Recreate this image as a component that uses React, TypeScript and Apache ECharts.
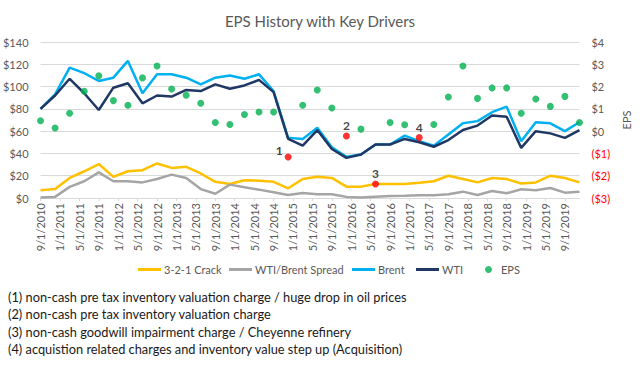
import React, { useEffect, useRef } from 'react';
import * as echarts from 'echarts';

// Quarterly observations, first one on 9/1/2010
const START_YEAR = 2010;
const START_MONTH = 9;
const STEP_MONTHS = 3;
const LABEL_EVERY_MONTHS = 4;

const crack = [7, 8, 18, 24, 30.5, 19, 24, 25, 31, 27, 28, 22, 14.5, 12.5, 16, 15.5, 14.5, 8.7, 17, 19, 18, 10.2, 10.2, 12.6, 12.6, 12.6, 13.7, 15, 20, 17, 14, 18, 17, 13, 14, 20, 18, 14];
const spread = [0.5, 1, 10, 15, 23, 15, 15, 14, 17, 21, 18, 8, 3.8, 12, 9.6, 7.5, 5.2, 2.7, 4.5, 3.4, 3.4, 1, 0.5, 1.2, 1.8, 2, 2.4, 2.4, 3.3, 5.7, 2.7, 6.3, 4.2, 7.8, 6.9, 9, 4.8, 5.7];
const brent = [80, 93, 117, 112, 105, 108, 123, 94, 111, 111, 108, 102, 108, 110, 107, 111, 96, 54, 53, 63, 45.5, 37, 39, 48, 48, 56, 51, 47, 57, 67, 69, 77, 82, 51, 68, 67, 60, 68];
const wti = [80, 92, 107, 94, 79, 99, 103, 85, 92, 91, 97, 96, 102, 98, 101, 106, 95, 53, 47, 61, 44, 36, 39, 48, 48, 53, 50, 46, 52, 61, 65, 74, 73, 45, 60, 58, 54, 61];
const eps = [0.47, 0.14, 0.8, 1.79, 2.48, 1.37, 1.16, 2.39, 2.92, 1.89, 1.61, 1.25, 0.39, 0.3, 0.75, 0.86, 0.86, -1.16, 1.16, 1.85, 1.04, -0.22, 0.09, -2.37, 0.39, 0.29, -0.29, 0.3, 1.53, 2.92, 1.47, 1.94, 1.94, 0.8, 1.44, 1.11, 1.56, 0.39];

const markers = [
  { index: 17, label: '1' },
  { index: 21, label: '2' },
  { index: 23, label: '3' },
  { index: 26, label: '4' },
];

const notes = [
  '(1) non-cash pre tax inventory valuation charge / huge drop in oil prices',
  '(2) non-cash pre tax inventory valuation charge',
  '(3) non-cash goodwill impairment charge / Cheyenne refinery',
  '(4) acquistion related charges and inventory value step up (Acquisition)',
];

const TITLE = 'EPS History with Key Drivers';
const NAMES = ['3-2-1 Crack', 'WTI/Brent Spread', 'Brent', 'WTI', 'EPS'];
const COLORS = ['#FFC000', '#A5A5A5', '#00B0F0', '#1F3864', '#00B050'];

const labelOffsets: Record<string, number[]> = { '1': [-9, 4] };

function monthLabel(m: number): string {
  const total = START_MONTH - 1 + m;
  const month = (total % 12) + 1;
  const year = START_YEAR + Math.floor(total / 12);
  return `${month}/1/${year}`;
}

export default function App() {
  const ref = useRef<HTMLDivElement>(null);
  useEffect(() => {
    if (!ref.current) return;
    const chart = echarts.init(ref.current, undefined, { renderer: 'svg' });
    const font = 'Lato';
    const toXY = (arr: number[]) => arr.map((v, i) => [i * STEP_MONTHS, v]);
    const epsData = eps.map((v, i) => {
      const mk = markers.find((m) => m.index === i);
      if (!mk) return [i * STEP_MONTHS, v];
      return {
        value: [i * STEP_MONTHS, v],
        itemStyle: { color: '#FF0000' },
        label: {
          show: true,
          formatter: mk.label,
          position: 'top',
          distance: 1,
          offset: labelOffsets[mk.label] || [0, 0],
          color: '#111',
          fontWeight: 'bold',
          fontSize: 12,
          fontFamily: font,
        },
      };
    });
    const lineSeries = [crack, spread, brent, wti].map((arr, k) => ({
      name: NAMES[k],
      type: 'line',
      yAxisIndex: 0,
      data: toXY(arr),
      showSymbol: false,
      symbol: 'none',
      lineStyle: { color: COLORS[k], width: 2.5 },
      itemStyle: { color: COLORS[k] },
      z: 2 + k,
    }));
    const legendLefts = [133, 224, 347, 411];
    const legends: any[] = legendLefts.map((l, k) => ({
      data: [{ name: NAMES[k], icon: 'rect' }],
      left: l,
      top: 259,
      itemWidth: 23,
      itemHeight: 3,
      itemGap: 0,
      textStyle: { color: '#595959', fontSize: 11, fontFamily: font, padding: [0, 0, 0, -2] },
    }));
    legends.push({
      data: [{ name: NAMES[4], icon: 'circle' }],
      left: 480,
      top: 259,
      itemWidth: 7,
      itemHeight: 7,
      textStyle: { color: '#595959', fontSize: 11, fontFamily: font, padding: [0, 0, 0, 4] },
    });
    const maxMonth = (eps.length - 1) * STEP_MONTHS;
    chart.setOption({
      animation: false,
      textStyle: { fontFamily: font },
      title: {
        text: TITLE,
        left: 'center',
        top: 8,
        textStyle: { color: '#595959', fontSize: 15, fontWeight: 'normal', fontFamily: font },
      },
      legend: legends,
      grid: { left: 35, right: 55, top: 42, bottom: 171 },
      xAxis: {
        type: 'value',
        min: 0,
        max: maxMonth,
        interval: LABEL_EVERY_MONTHS,
        axisLine: { lineStyle: { color: '#D9D9D9' } },
        axisTick: { show: true, length: 3, lineStyle: { color: '#D9D9D9' } },
        splitLine: { show: false },
        axisLabel: {
          rotate: 90,
          margin: 5,
          color: '#595959',
          fontSize: 11,
          fontFamily: font,
          showMaxLabel: false,
          formatter: (v: number) => (v % LABEL_EVERY_MONTHS === 0 ? monthLabel(v) : ''),
        },
      },
      yAxis: [
        {
          type: 'value',
          min: 0,
          max: 140,
          interval: 20,
          axisLine: { show: false },
          axisTick: { show: false },
          splitLine: { lineStyle: { color: '#D9D9D9' } },
          axisLabel: {
            margin: 12,
            color: '#595959',
            fontSize: 11,
            fontFamily: font,
            formatter: (v: number) => `$${v}`,
          },
        },
        {
          type: 'value',
          min: -3,
          max: 4,
          interval: 1,
          name: 'EPS',
          nameLocation: 'middle',
          nameRotate: 90,
          nameGap: 40,
          nameTextStyle: { color: '#595959', fontSize: 11, fontFamily: font },
          axisLine: { show: false },
          axisTick: { show: false },
          splitLine: { show: false },
          axisLabel: {
            margin: 12,
            fontSize: 11,
            fontFamily: font,
            formatter: (v: number) => (v < 0 ? `{neg|($${-v})}` : `{pos|$${v}}`),
            rich: {
              neg: { color: '#FF0000', fontSize: 11, fontFamily: font },
              pos: { color: '#595959', fontSize: 11, fontFamily: font },
            },
          },
        },
      ],
      series: [
        ...lineSeries,
        {
          name: NAMES[4],
          type: 'scatter',
          yAxisIndex: 1,
          data: epsData,
          symbol: 'circle',
          symbolSize: 7,
          itemStyle: { color: COLORS[4] },
          z: 10,
        },
      ],
      graphic: notes.map((t, k) => ({
        type: 'text',
        left: 8,
        top: 290 + k * 17.5,
        style: { text: t, font: `12.8px ${font}`, fill: '#1a1a1a' },
      })),
    });
    return () => chart.dispose();
  }, []);
  return <div ref={ref} style={{ position: 'absolute', left: 0, top: 0, width: 640, height: 369 }} />;
}
